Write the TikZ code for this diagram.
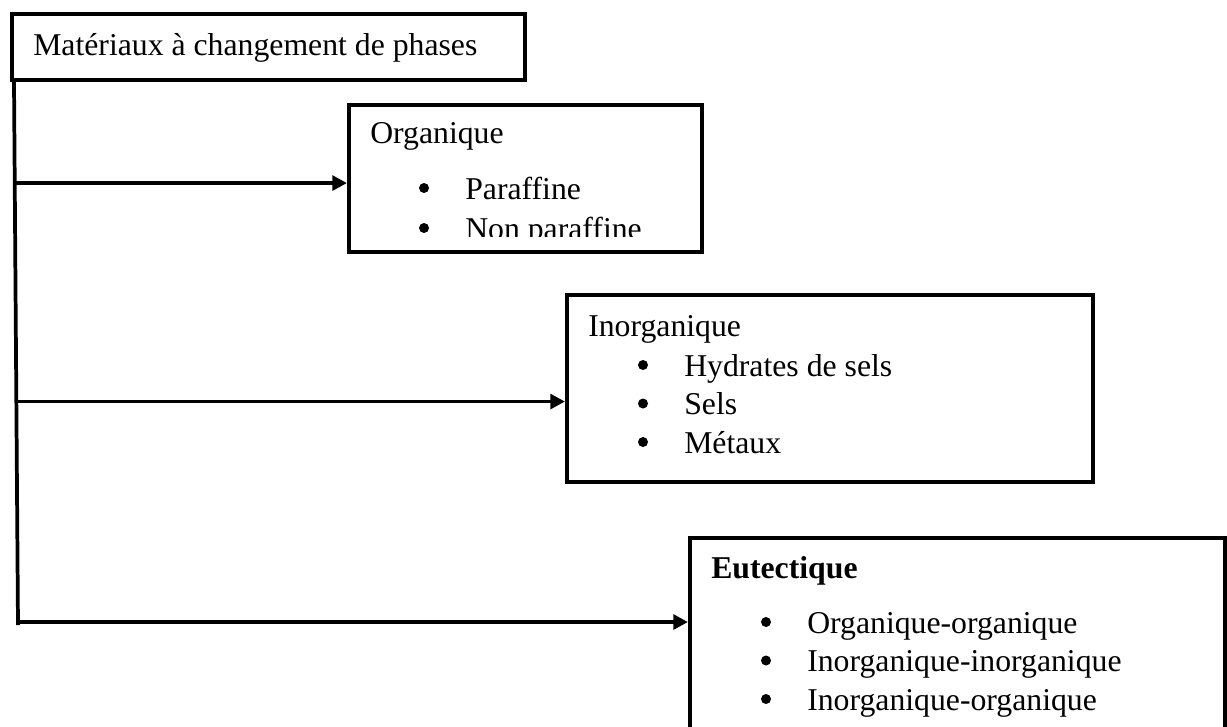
\documentclass[tikz,border=0pt]{standalone}
\usepackage{fontspec}
\setmainfont{Liberation Serif}
\usetikzlibrary{arrows.meta,calc}
\tikzset{
  box/.style={draw, line width=2.8pt, anchor=north west, inner sep=0pt},
  txt/.style={anchor=base west, inner sep=0pt, font=\fontsize{23.8pt}{28pt}\selectfont},
  link/.style={line width=2.8pt, -{Triangle[length=11pt,width=11pt]}},
}
% bullet in front of a list entry
\newcommand{\bul}[1]{\fill ($(#1.base west)+(-41,-11)$) circle (5);}

\begin{document}
\begin{tikzpicture}[x=0.75pt,y=0.75pt,yscale=-1,xscale=1]
\path[use as bounding box, clip] (0,0) rectangle (1227,726);
% boxes
\node[box, minimum width=384.75pt, minimum height=49.5pt] (mcp) at (10,12) {};
\node[box, minimum width=264.75pt, minimum height=110.25pt] (org) at (347,103) {};
\node[box, minimum width=394.5pt, minimum height=140.25pt] (inorg) at (565,293) {};
\node[box, minimum width=401.25pt, minimum height=168pt] (eut) at (688,536) {};
% titles
\node[txt] (mcpT) at (33,55) {Matériaux à changement de phases};
\node[txt] (orgT) at (370,143) {Organique};
\node[txt] (inorgT) at (588,336) {Inorganique};
\node[txt] (eutT) at (711,578) {\textbf{Eutectique}};
% lists
\node[txt] (org1) at (465,199) {Paraffine};
\bul{org1}
\begin{scope}
  \clip (347,103) rectangle (700,236);
  \node[txt] (org2) at (465,239) {Non paraffine};
  \bul{org2}
\end{scope}
\foreach \y/\t [count=\i] in {376/Hydrates de sels, 414.5/Sels, 453/Métaux} {
  \node[txt] (inorg\i) at (684,\y) {\t};
  \bul{inorg\i}
}
\foreach \y/\t [count=\i] in {633/Organique-organique, 671.5/Inorganique-inorganique, 710/Inorganique-organique} {
  \node[txt] (eut\i) at (807,\y) {\t};
  \bul{eut\i}
}
% trunk and arrows
\coordinate (ttop) at ($(mcp.south west)+(4,0)$);
\coordinate (tbot) at (18,625);
\draw[line width=2.8pt] (ttop) -- (tbot)
  coordinate[pos=0.1865] (b1)
  coordinate[pos=0.5887] (b2)
  coordinate[pos=0.9945] (b3);
\draw[link] (b1) -- (b1 -| org.west);
\draw[link] (b2) -- (b2 -| inorg.west);
\draw[link] (b3) -- (b3 -| eut.west);
\end{tikzpicture}
\end{document}
